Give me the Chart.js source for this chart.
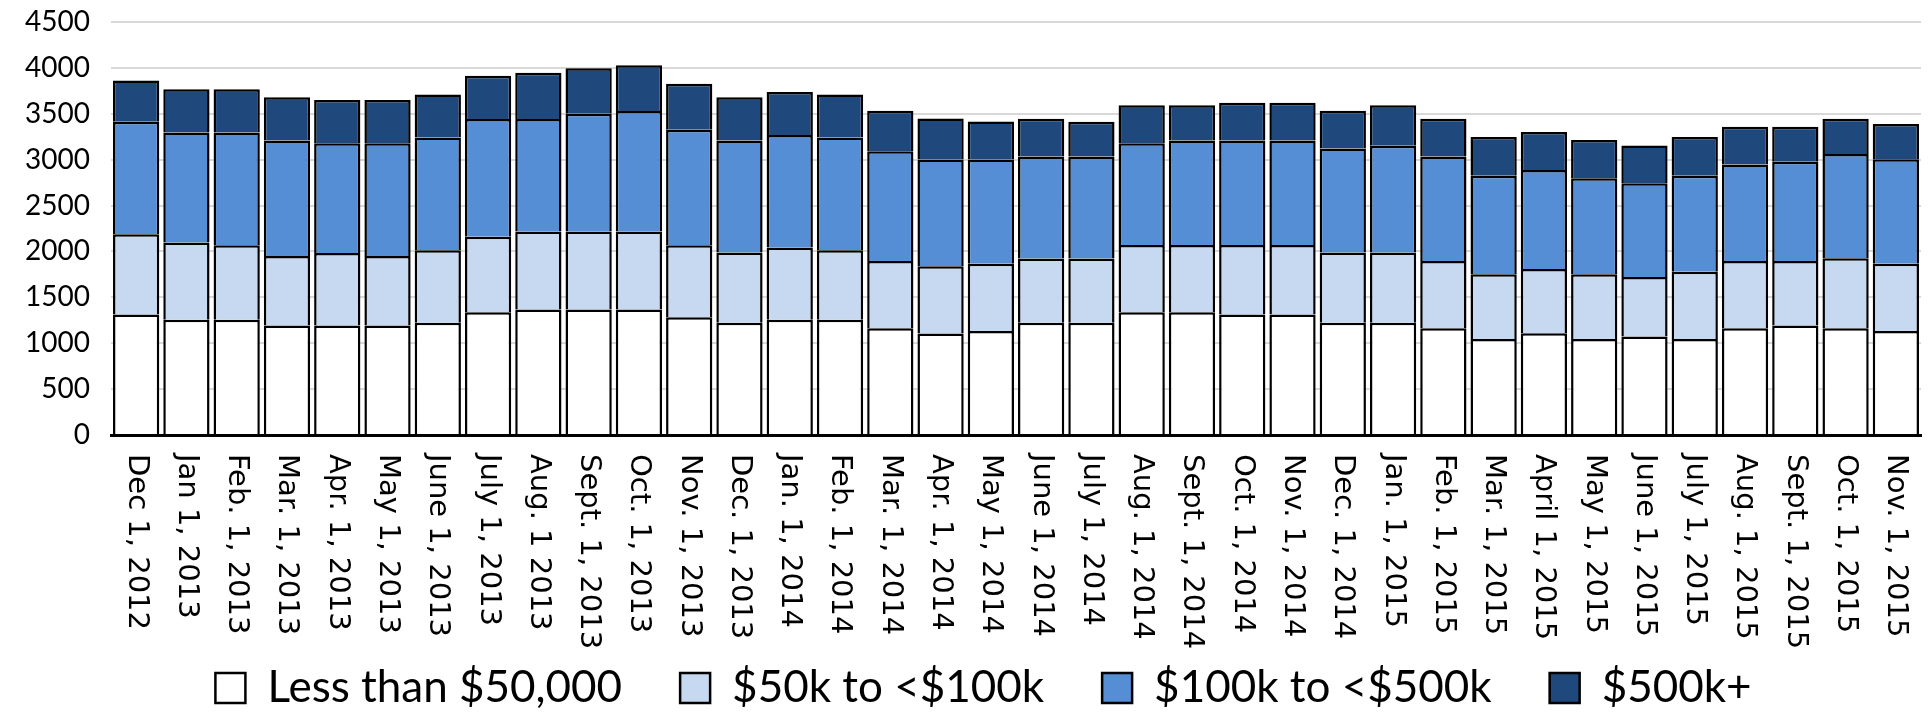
<!DOCTYPE html>
<html lang="en">
<head>
    <meta charset="UTF-8">
    <title>Stacked bars by size band</title>
    <script src="https://cdn.jsdelivr.net/npm/chart.js"></script>
    <style>
        body {
            margin: 0;
            background: white;
        }
        .wrap {
            width: 1928px;
            height: 715px;
            position: relative;
        }
    </style>
</head>
<body>
    <div class="wrap">
        <canvas id="bandChart"></canvas>
    </div>
    <script>
        // values
        const categories = ['Dec 1, 2012', 'Jan 1, 2013', 'Feb. 1, 2013', 'Mar. 1, 2013', 'Apr. 1, 2013', 'May 1, 2013',
            'June 1, 2013', 'July 1, 2013', 'Aug. 1 2013', 'Sept. 1, 2013', 'Oct. 1, 2013', 'Nov. 1, 2013',
            'Dec. 1, 2013', 'Jan. 1, 2014', 'Feb. 1, 2014', 'Mar. 1, 2014', 'Apr. 1, 2014', 'May 1, 2014',
            'June 1, 2014', 'July 1, 2014', 'Aug. 1, 2014', 'Sept. 1, 2014', 'Oct. 1, 2014', 'Nov. 1, 2014',
            'Dec. 1, 2014', 'Jan. 1, 2015', 'Feb. 1, 2015', 'Mar. 1, 2015', 'April 1, 2015', 'May 1, 2015',
            'June 1, 2015', 'July 1, 2015', 'Aug. 1, 2015', 'Sept. 1, 2015', 'Oct. 1, 2015', 'Nov. 1, 2015'];

        const seriesNames = ['Less than $50,000', '$50k to <$100k', '$100k to <$500k', '$500k+'];

        const under50k = [1313, 1255, 1255, 1193, 1193, 1193, 1222, 1338, 1368, 1368, 1368, 1284,
            1222, 1255, 1255, 1163, 1105, 1134, 1222, 1222, 1338, 1338, 1313, 1313,
            1222, 1222, 1163, 1047, 1109, 1047, 1072, 1047, 1163, 1193, 1163, 1134];
        const k50to100 = [875, 842, 813, 758, 791, 758, 791, 821, 849, 849, 849, 784,
            766, 787, 758, 733, 735, 733, 700, 700, 733, 733, 758, 758,
            766, 766, 733, 704, 700, 704, 649, 733, 733, 703, 763, 733];
        const k100to500 = [1226, 1200, 1229, 1258, 1196, 1229, 1229, 1284, 1226, 1284, 1313, 1258,
            1221, 1226, 1229, 1197, 1163, 1134, 1112, 1112, 1109, 1138, 1138, 1138,
            1134, 1163, 1138, 1075, 1079, 1046, 1022, 1046, 1051, 1080, 1137, 1138];
        const k500plus = [448, 470, 470, 471, 471, 471, 467, 470, 503, 496, 500, 500,
            471, 470, 467, 441, 445, 416, 412, 380, 412, 383, 412, 412,
            412, 441, 412, 420, 413, 416, 412, 420, 412, 383, 383, 383];

        const yMax = 4500;
        const yStep = 500;

        const colors = ['#ffffff', '#c6d9f1', '#558ed5', '#1f497d'];

        // rotated date labels, reading top to bottom
        const xLabelPlugin = {
            id: 'xLabels',
            afterLayout(chart) {
                // legend sits a little right of centre in the original
                chart.legend.left += 23;
                chart.legend.right += 23;
            },
            afterDraw(chart) {
                let ctx = chart.ctx;
                let x = chart.scales.x;
                ctx.save();
                ctx.font = '29px "DejaVu Sans"';
                ctx.fillStyle = '#000';
                ctx.textAlign = 'left';
                ctx.textBaseline = 'middle';
                categories.forEach((lab, i) => {
                    ctx.save();
                    ctx.translate(x.getPixelForValue(i), x.top + 19);
                    ctx.rotate(Math.PI / 2);
                    ctx.fillText(lab, 0, 0);
                    ctx.restore();
                });
                ctx.restore();
            }
        };

        const allSeries = [under50k, k50to100, k100to500, k500plus];

        let ctx = document.getElementById('bandChart').getContext('2d');
        new Chart(ctx, {
            type: 'bar',
            data: {
                labels: categories,
                datasets: allSeries.map((vals, i) => ({
                    label: seriesNames[i],
                    data: vals,
                    backgroundColor: colors[i],
                    borderColor: '#000',
                    borderWidth: 2.5,
                    barPercentage: 0.92,
                    categoryPercentage: 1.0
                }))
            },
            options: {
                responsive: true,
                maintainAspectRatio: false,
                animation: false,
                layout: {
                    padding: { top: 22, right: 7, left: 0, bottom: -5 }
                },
                plugins: {
                    legend: {
                        display: true,
                        position: 'bottom',
                        labels: {
                            color: '#000',
                            font: { family: 'Lato', size: 44 },
                            boxWidth: 30,
                            boxHeight: 30,
                            padding: 58
                        }
                    },
                    tooltip: { enabled: false }
                },
                scales: {
                    x: {
                        stacked: true,
                        grid: { display: false },
                        border: { color: '#000', width: 3 },
                        ticks: { display: false },
                        afterFit(scale) { scale.height = 173; }
                    },
                    y: {
                        stacked: true,
                        min: 0,
                        max: yMax,
                        border: { display: false },
                        grid: {
                            color: c => c.tick && c.tick.value === 0 ? '#000' : '#d9d9d9',
                            lineWidth: 2,
                            drawTicks: false
                        },
                        ticks: {
                            stepSize: yStep,
                            color: '#000',
                            padding: 21,
                            font: { family: 'Lato', size: 28 },
                            callback: v => String(v)
                        },
                        afterFit(scale) {
                            scale.width = 111;
                            scale.paddingTop = 0;
                            scale.paddingBottom = 0;
                        }
                    }
                }
            },
            plugins: [xLabelPlugin]
        });
    </script>
</body>
</html>
